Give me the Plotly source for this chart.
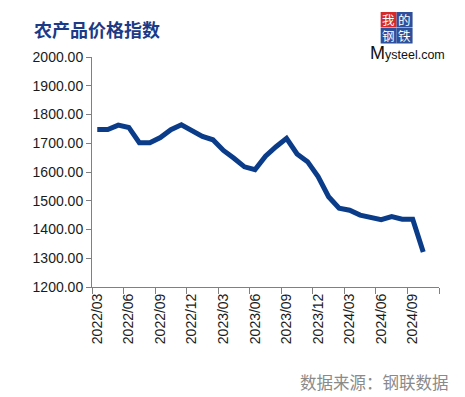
import plotly.graph_objects as go

# ---- data ----
months = [
    "2022/03", "2022/04", "2022/05", "2022/06", "2022/07", "2022/08", "2022/09",
    "2022/10", "2022/11", "2022/12", "2023/01", "2023/02", "2023/03", "2023/04",
    "2023/05", "2023/06", "2023/07", "2023/08", "2023/09", "2023/10", "2023/11",
    "2023/12", "2024/01", "2024/02", "2024/03", "2024/04", "2024/05", "2024/06",
    "2024/07", "2024/08", "2024/09", "2024/10", "2024/11",
]
index_values = [
    1748, 1748, 1763, 1755, 1702, 1702, 1720, 1747, 1764, 1742, 1724,
    1712, 1675, 1648, 1618, 1608, 1655, 1688, 1717, 1663, 1636, 1584,
    1514, 1474, 1467, 1450, 1442, 1434, 1445, 1436, 1436, 1322, None,
]
y_ticks = [1200, 1300, 1400, 1500, 1600, 1700, 1800, 1900, 2000]

W, H = 465, 397
OFF = 8  # page body margin
# plot area in page pixels
X0, X1, Y0, Y1 = 91.5, 439.5, 57, 287
L = X0 - OFF
T = Y0 - OFF
R = W - (X1 - OFF)
B = H - (Y1 - OFF)
PW, PH = X1 - X0, Y1 - Y0


def px(x):
    return (x - X0) / PW


def py(y):
    return (Y1 - y) / PH


NAVY = "#0a3c8a"
AXIS = "#808080"
LABEL = "#1a1a1a"

fig = go.Figure()
fig.add_trace(go.Scatter(
    x=months, y=index_values, mode="lines",
    line=dict(color=NAVY, width=5), connectgaps=False,
    hoverinfo="x+y", showlegend=False,
))

shapes = []
annotations = []

# title
annotations.append(dict(
    text="<b>农产品价格指数</b>", xref="paper", yref="paper",
    x=px(31), y=py(29), xanchor="left", yanchor="middle", showarrow=False,
    font=dict(family="Noto Sans CJK SC", size=18, color="#1c3a86"),
))

# logo: colored boxes
boxes = [(381, 12, "#d42a2a"), (397, 12, "#2d4f9c"),
         (381, 28, "#2d4f9c"), (397, 28, "#2d4f9c")]
for bx, by, col in boxes:
    shapes.append(dict(type="rect", xref="paper", yref="paper",
                       x0=px(bx), x1=px(bx + 16), y0=py(by + 15.5), y1=py(by),
                       fillcolor=col, line=dict(width=0)))
# logo: characters, one text per column
for txt, cx in [("我<br>钢", 389), ("的<br>铁", 405)]:
    annotations.append(dict(text=txt, xref="paper", yref="paper",
                            x=px(cx), y=py(27.8), xanchor="center", yanchor="middle",
                            showarrow=False, borderpad=0,
                            font=dict(family="Noto Sans CJK SC", size=12.5, color="white")))
annotations.append(dict(
    text="<span style='font-size:18px'>M</span>ysteel.com", xref="paper", yref="paper",
    x=px(368), y=py(53), xanchor="left", yanchor="middle", showarrow=False,
    font=dict(family="Liberation Sans, Arial", size=12.5, color="#111111"),
))

# source
annotations.append(dict(
    text="数据来源：钢联数据", xref="paper", yref="paper",
    x=px(452), y=py(382), xanchor="right", yanchor="middle", showarrow=False,
    font=dict(family="Noto Sans CJK SC", size=16.5, color="#8a8a8a"),
))

fig.update_layout(
    width=W, height=H,
    margin=dict(l=L, r=R, t=T, b=B, pad=0),
    paper_bgcolor="white", plot_bgcolor="white",
    shapes=shapes, annotations=annotations,
    xaxis=dict(
        type="category", categoryorder="array", categoryarray=months,
        range=[-0.5, len(months) - 0.5],
        tickmode="linear", tick0=0, dtick=3, tickson="boundaries",
        tickangle=-90, ticks="outside", ticklen=6, tickcolor=AXIS, tickwidth=1,
        showline=True, linecolor=AXIS, linewidth=1, showgrid=False, zeroline=False,
        tickfont=dict(family="Liberation Sans, Arial", size=14, color=LABEL),
    ),
    yaxis=dict(
        range=[1200, 2000], tickmode="array", tickvals=y_ticks,
        ticktext=[f"{v:.2f}" for v in y_ticks],
        ticks="outside", ticklen=5, tickcolor=AXIS, tickwidth=1,
        showline=True, linecolor=AXIS, linewidth=1, showgrid=False, zeroline=False,
        tickfont=dict(family="Liberation Sans, Arial", size=14, color=LABEL),
    ),
)

fig.write_html("out.html")
